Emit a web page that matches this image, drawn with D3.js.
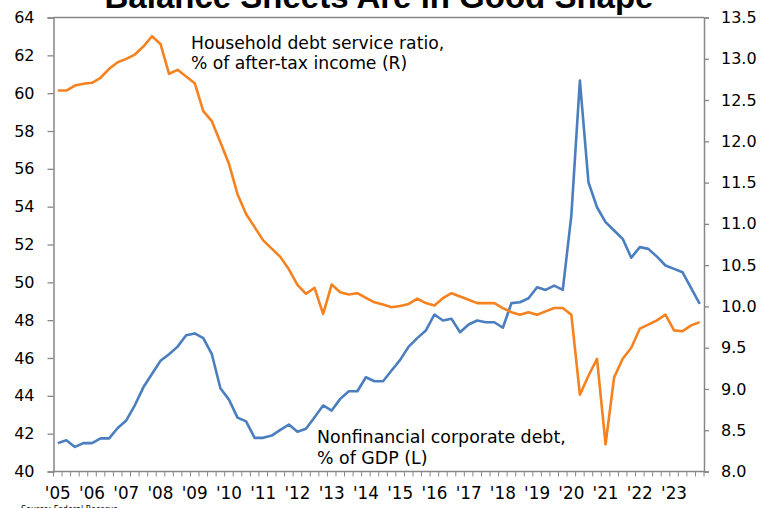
<!DOCTYPE html>
<html><head><meta charset="utf-8">
<script src="https://cdn.jsdelivr.net/npm/d3@7/dist/d3.min.js"></script>
<style>
html,body{margin:0;padding:0;background:#fff;}
svg{display:block;}
</style></head>
<body>
<svg id="chart" width="761" height="508"></svg>
<script>
// ---- data ----
const years = ["2005","2006","2007","2008","2009","2010","2011","2012","2013","2014","2015","2016","2017","2018","2019","2020","2021","2022","2023"];
const quarterNames = ["Q1","Q2","Q3","Q4"];
const yearLabels = ["'05","'06","'07","'08","'09","'10","'11","'12","'13","'14","'15","'16","'17","'18","'19","'20","'21","'22","'23"];

// Nonfinancial corporate debt, % of GDP (left axis)
const corpDebt = [
  41.5, 41.65, 41.3, 41.5,
  41.5, 41.75, 41.75, 42.3,
  42.7, 43.5, 44.45, 45.15,
  45.85, 46.2, 46.6, 47.2,
  47.3, 47.05, 46.2, 44.4,
  43.8, 42.85, 42.65, 41.78,
  41.78, 41.9, 42.2, 42.48,
  42.1, 42.26, 42.87, 43.49,
  43.22, 43.84, 44.24, 44.24,
  44.98, 44.77, 44.77, 45.34,
  45.9, 46.6, 47.05, 47.45,
  48.3, 47.98, 48.07, 47.36,
  47.77, 47.98, 47.89, 47.89,
  47.6, 48.9, 48.95, 49.16,
  49.74, 49.6, 49.83, 49.6,
  53.53, 60.67, 55.29, 53.97,
  53.18, 52.74, 52.3, 51.3,
  51.86, 51.77, 51.36, 50.89,
  50.71, 50.53, 49.7, 48.86
];

// Household debt service ratio, % of after-tax income (right axis)
const debtService = [
  12.615, 12.615, 12.676, 12.697,
  12.709, 12.77, 12.878, 12.958,
  12.999, 13.051, 13.148, 13.273,
  13.18, 12.818, 12.866, 12.785,
  12.704, 12.365, 12.244, 11.989,
  11.727, 11.36, 11.12, 10.96,
  10.8, 10.7, 10.6, 10.45,
  10.26, 10.153, 10.225, 9.91,
  10.265, 10.172, 10.144, 10.16,
  10.104, 10.05, 10.023, 9.99,
  10.005, 10.03, 10.095, 10.04,
  10.01, 10.1, 10.16, 10.12,
  10.08, 10.04, 10.04, 10.04,
  9.98, 9.93, 9.9, 9.93,
  9.9, 9.94, 9.98, 9.98,
  9.9, 8.93, 9.16, 9.365,
  8.33, 9.14, 9.365, 9.5,
  9.73, 9.78, 9.83, 9.9,
  9.71, 9.7, 9.77, 9.81
];

const leftTicks = [40,42,44,46,48,50,52,54,56,58,60,62,64];
const rightTicks = [8.0,8.5,9.0,9.5,10.0,10.5,11.0,11.5,12.0,12.5,13.0,13.5];

const titleText = "Balance Sheets Are in Good Shape";
const noteHousehold = ["Household debt service ratio,", "% of after-tax income (R)"];
const noteCorp = ["Nonfinancial corporate debt,", "% of GDP (L)"];
const sourceText = "Source: Federal Reserve";

// ---- build ----
const quarters = [];
years.forEach(y => quarterNames.forEach(q => quarters.push(y + q)));

const svg = d3.select("#chart");
const plot = {left: 53.5, right: 704, top: 17.5, bottom: 471.5};

const x = d3.scaleBand().domain(quarters).range([plot.left, plot.right]).padding(0);
const yL = d3.scaleLinear().domain([40, 64]).range([plot.bottom, plot.top]);
const yR = d3.scaleLinear().domain([8, 13.5]).range([plot.bottom, plot.top]);
const cx = q => x(q) + x.bandwidth() / 2;

const axisColor = "#878787";
const textFont = "'DejaVu Sans', Verdana, sans-serif";

// title (clipped at top like the reference)
svg.append("text")
  .attr("x", 379).attr("y", 7.5)
  .attr("text-anchor", "middle")
  .attr("font-family", "'Liberation Sans', Arial, sans-serif")
  .attr("font-weight", "bold")
  .attr("font-size", 33)
  .attr("fill", "#000")
  .text(titleText);

// top border
svg.append("line")
  .attr("x1", plot.left).attr("x2", plot.right)
  .attr("y1", plot.top).attr("y2", plot.top)
  .attr("stroke", axisColor).attr("stroke-width", 1.3);

// left axis
const leftAxis = d3.axisLeft(yL).tickValues(leftTicks).tickSize(6).tickPadding(13).tickFormat(d3.format("d"));
const gL = svg.append("g").attr("transform", `translate(${plot.left},0)`).call(leftAxis);
gL.select(".domain").attr("stroke", axisColor).attr("stroke-width", 1.5);
gL.selectAll(".tick line").attr("stroke", axisColor).attr("stroke-width", 1.3);
gL.selectAll(".tick text").attr("font-family", textFont).attr("font-size", 16).attr("fill", "#000");

// right axis
const rightAxis = d3.axisRight(yR).tickValues(rightTicks).tickSize(5).tickPadding(12).tickFormat(d3.format(".1f"));
const gR = svg.append("g").attr("transform", `translate(${plot.right},0)`).call(rightAxis);
gR.select(".domain").attr("stroke", axisColor).attr("stroke-width", 1.5);
gR.selectAll(".tick line").attr("stroke", axisColor).attr("stroke-width", 1.3);
gR.selectAll(".tick text").attr("font-family", textFont).attr("font-size", 16).attr("fill", "#000");

// x axis: line, quarterly tick marks at category boundaries, year labels
const gX = svg.append("g");
gX.append("line")
  .attr("x1", plot.left).attr("x2", plot.right)
  .attr("y1", plot.bottom).attr("y2", plot.bottom)
  .attr("stroke", axisColor).attr("stroke-width", 1.5);
const boundaries = quarters.map(q => x(q)).concat([plot.right]);
gX.selectAll("line.qt").data(boundaries).enter().append("line")
  .attr("class", "qt")
  .attr("x1", d => d).attr("x2", d => d)
  .attr("y1", plot.bottom).attr("y2", plot.bottom + 5)
  .attr("stroke", axisColor).attr("stroke-width", 1);
gX.selectAll("text").data(years).enter().append("text")
  .attr("x", (d) => cx(d + "Q1"))
  .attr("y", 499)
  .attr("text-anchor", "middle")
  .attr("font-family", textFont)
  .attr("font-size", 16.8)
  .attr("fill", "#000")
  .text((d, i) => yearLabels[i]);

// lines
const lineL = d3.line().x((d, i) => cx(quarters[i])).y(d => yL(d));
const lineR = d3.line().x((d, i) => cx(quarters[i])).y(d => yR(d));

svg.append("path").datum(corpDebt)
  .attr("d", lineL).attr("fill", "none")
  .attr("stroke", "#4a7ebf").attr("stroke-width", 2.6)
  .attr("stroke-linejoin", "round");

svg.append("path").datum(debtService)
  .attr("d", lineR).attr("fill", "none")
  .attr("stroke", "#f5821f").attr("stroke-width", 2.6)
  .attr("stroke-linejoin", "round");

// annotations
const noteH = svg.append("text").attr("font-family", textFont).attr("font-size", 17.2).attr("fill", "#000");
noteHousehold.forEach((t, i) => noteH.append("tspan").attr("x", 191).attr("y", 48.5 + i * 20).text(t));
const noteC = svg.append("text").attr("font-family", textFont).attr("font-size", 17.4).attr("fill", "#000");
noteCorp.forEach((t, i) => noteC.append("tspan").attr("x", 317).attr("y", 443 + i * 20.5).text(t));

// source
svg.append("text")
  .attr("x", 21).attr("y", 511.5)
  .attr("font-family", textFont).attr("font-size", 8)
  .attr("fill", "#000")
  .text(sourceText);
</script>
</body></html>
